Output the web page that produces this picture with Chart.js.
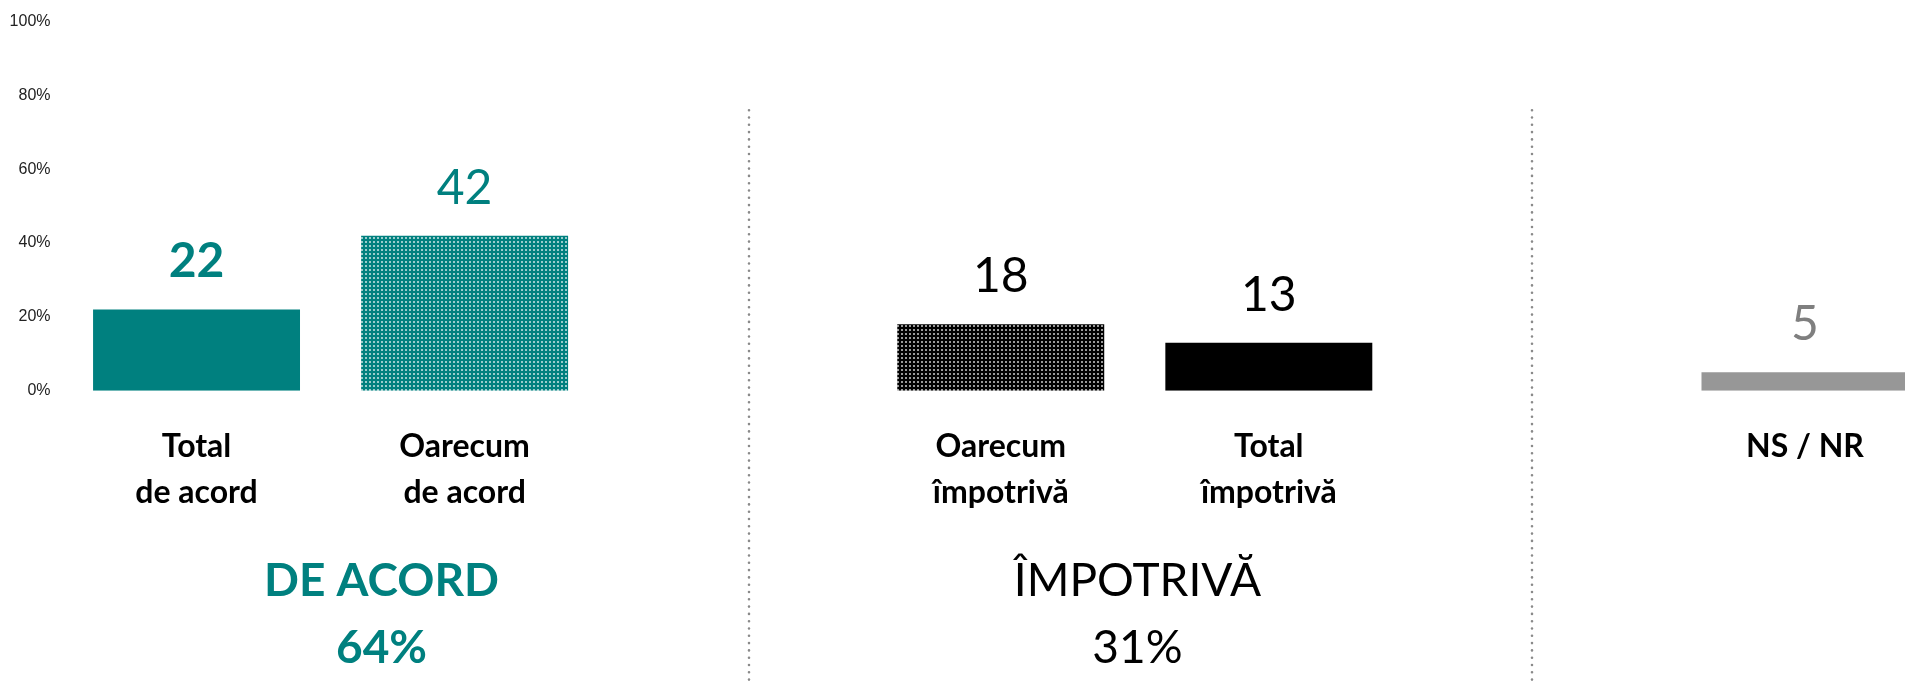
<!DOCTYPE html>
<html>
<head>
<meta charset="utf-8">
<script src="https://cdn.jsdelivr.net/npm/chart.js@4.4.1/dist/chart.umd.min.js"></script>
<style>
  html, body { margin: 0; padding: 0; background: #fff; overflow: hidden; }
  #wrap { position: relative; width: 1939px; height: 681px; }
</style>
</head>
<body>
<div id="wrap"><canvas id="chart"></canvas></div>
<script>
// categories - the blank ones keep the gaps between the groups
const categories = [['Total', 'de acord'], ['Oarecum', 'de acord'], '', ['Oarecum', 'împotrivă'], ['Total', 'împotrivă'], '', 'NS / NR'];
const values = [22, 42, null, 18, 13, null, 5];
const yTicks = [0, 20, 40, 60, 80, 100];

// group captions under the bars
const groupTitles = [['DE ACORD', '64%'], ['ÎMPOTRIVĂ', '31%']];
const groupAt = [0.69, 3.51];      // position in category units
const dividerAt = [2.06, 4.98];    // dotted separators, category units

const TEAL = '#00807f';

// dotted fill like the office "small grid" pattern
function dotted(bg, alpha) {
  const c = document.createElement('canvas');
  c.width = 4; c.height = 4;
  const g = c.getContext('2d');
  g.fillStyle = bg;
  g.fillRect(0, 0, 4, 4);
  g.fillStyle = 'rgba(255,255,255,' + alpha + ')';
  g.fillRect(1, 1, 2, 2);
  return g.createPattern(c, 'repeat');
}

const barColors = [TEAL, dotted(TEAL, 0.6), 'rgba(0,0,0,0)', dotted('#000', 0.6), '#000', 'rgba(0,0,0,0)', '#979797'];
const labelColors = [TEAL, TEAL, null, '#000', '#000', null, '#7f7f7f'];
const labelBold = [true, false, false, false, false, false, false];
const groupColors = [TEAL, '#000'];
const groupBold = [true, false];

// value above each bar
const valueLabels = {
  id: 'valueLabels',
  afterDatasetsDraw(chart) {
    const ctx = chart.ctx;
    const meta = chart.getDatasetMeta(0);
    ctx.save();
    ctx.textAlign = 'center';
    ctx.textBaseline = 'alphabetic';
    meta.data.forEach((bar, i) => {
      if (values[i] == null) return;
      ctx.font = (labelBold[i] ? 'bold ' : '') + '48px Lato';
      ctx.fillStyle = labelColors[i];
      ctx.fillText(String(values[i]), bar.x, bar.y - 32);
    });
    ctx.restore();
  }
};

// dotted separators + the DE ACORD / ÎMPOTRIVĂ captions
const extras = {
  id: 'extras',
  afterDraw(chart) {
    const ctx = chart.ctx;
    const x = chart.scales.x, y = chart.scales.y;
    ctx.save();
    ctx.strokeStyle = '#8a8a8a';
    ctx.lineWidth = 2.6;
    ctx.lineCap = 'round';
    ctx.setLineDash([0, 7.3]);
    dividerAt.forEach(v => {
      const px = Math.round(x.getPixelForValue(v));
      ctx.beginPath();
      ctx.moveTo(px, y.getPixelForValue(76));
      ctx.lineTo(px, chart.height);
      ctx.stroke();
    });
    ctx.setLineDash([]);
    ctx.textAlign = 'center';
    ctx.textBaseline = 'alphabetic';
    const base = y.getPixelForValue(0);
    groupTitles.forEach((lines, g) => {
      const px = x.getPixelForValue(groupAt[g]);
      ctx.fillStyle = groupColors[g];
      ctx.font = (groupBold[g] ? 'bold ' : '') + '46px Lato';
      ctx.fillText(lines[0], px, base + 205);
      ctx.fillText(lines[1], px, base + 272);
    });
    ctx.restore();
  }
};

function draw() {
  new Chart(document.getElementById('chart'), {
    type: 'bar',
    data: {
      labels: categories,
      datasets: [{
        data: values,
        backgroundColor: barColors,
        borderWidth: 0,
        barPercentage: 0.772,
        categoryPercentage: 1
      }]
    },
    options: {
      responsive: true,
      maintainAspectRatio: false,
      animation: false,
      layout: { padding: { top: 20, left: 0, right: 0, bottom: 0 } },
      plugins: { legend: { display: false }, tooltip: { enabled: false } },
      scales: {
        x: {
          grid: { display: false, drawTicks: false },
          border: { display: false },
          ticks: {
            color: '#000',
            font: { family: 'Lato', size: 32, weight: 'bold', lineHeight: 46 / 32 },
            padding: 33,
            maxRotation: 0,
            autoSkip: false
          },
          afterFit(s) { s.height = 290.3; }
        },
        y: {
          min: 0,
          max: 100,
          grid: { display: false, drawTicks: false },
          border: { display: false },
          afterBuildTicks(s) { s.ticks = yTicks.map(v => ({ value: v })); },
          ticks: {
            color: '#222',
            font: { family: 'Liberation Sans', size: 16 },
            padding: 12,
            callback: v => v + '%'
          },
          afterFit(s) { s.width = 62.5; }
        }
      }
    },
    plugins: [valueLabels, extras]
  });
}

Promise.all([
  document.fonts.load('bold 48px Lato'),
  document.fonts.load('48px Lato'),
  document.fonts.load('16px "Liberation Sans"')
]).then(draw, draw);
</script>
</body>
</html>
